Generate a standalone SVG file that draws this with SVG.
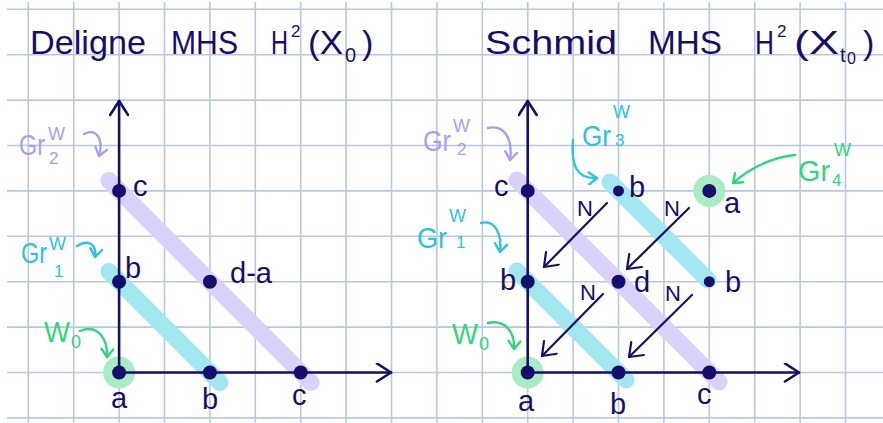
<svg xmlns="http://www.w3.org/2000/svg" width="883" height="423" viewBox="0 0 883 423">
<style>
.grid{stroke:#b9c8e0;stroke-width:1.6;fill:none}
.ax{stroke:#150f6b;stroke-width:2.6;fill:none;stroke-linecap:round}
.nar{stroke:#150f6b;stroke-width:2.2;fill:none;stroke-linecap:round}
.dot{fill:#150f6b}
.pb{stroke:#d9d3fb;stroke-width:17;stroke-linecap:round;fill:none}
.cb{stroke:#a2e6f0;stroke-width:17;stroke-linecap:round;fill:none}
.gc{fill:#a9ebc2}
.t{font-family:"Liberation Sans",Arial,sans-serif;fill:#150f6b}
.title{font-size:34px}
.lbl{font-size:29px}
.nl{font-size:22px}
.pt{fill:#a99ef5}
.ct{fill:#2dc2dd}
.gt{fill:#30d67b}
.pa{stroke:#a99ef5;stroke-width:2.4;fill:none;stroke-linecap:round}
.ca{stroke:#2dc2dd;stroke-width:2.4;fill:none;stroke-linecap:round}
.ga{stroke:#30d67b;stroke-width:2.4;fill:none;stroke-linecap:round}
</style>
<defs>
<marker id="axh" viewBox="0 0 18 20" refX="16" refY="10" markerWidth="18" markerHeight="20" orient="auto" markerUnits="userSpaceOnUse"><path d="M2,1 L16,10 L2,19" fill="none" stroke="#150f6b" stroke-width="2.6" stroke-linecap="round" stroke-linejoin="round"/></marker>
<marker id="nh" viewBox="0 0 16 20" refX="14" refY="10" markerWidth="16" markerHeight="20" orient="auto" markerUnits="userSpaceOnUse"><path d="M2,1 L14,10 L2,19" fill="none" stroke="#150f6b" stroke-width="2.2" stroke-linecap="round" stroke-linejoin="round"/></marker>
<marker id="ph" viewBox="0 0 12 14" refX="10" refY="7" markerWidth="12" markerHeight="14" orient="auto" markerUnits="userSpaceOnUse"><path d="M2,1 L10,7 L2,13" fill="none" stroke="#a99ef5" stroke-width="2.4" stroke-linecap="round" stroke-linejoin="round"/></marker>
<marker id="ch" viewBox="0 0 12 14" refX="10" refY="7" markerWidth="12" markerHeight="14" orient="auto" markerUnits="userSpaceOnUse"><path d="M2,1 L10,7 L2,13" fill="none" stroke="#2dc2dd" stroke-width="2.4" stroke-linecap="round" stroke-linejoin="round"/></marker>
<marker id="gh" viewBox="0 0 12 14" refX="10" refY="7" markerWidth="12" markerHeight="14" orient="auto" markerUnits="userSpaceOnUse"><path d="M2,1 L10,7 L2,13" fill="none" stroke="#30d67b" stroke-width="2.4" stroke-linecap="round" stroke-linejoin="round"/></marker>
</defs>
<rect width="883" height="423" fill="#ffffff"/>
<g id="grid" class="grid">
<path d="M28.3,2V423 M73.7,2V423 M119.1,2V423 M164.5,2V423 M209.9,2V423 M255.3,2V423 M300.7,2V423 M346.1,2V423 M391.5,2V423 M436.9,2V423 M482.3,2V423 M527.7,2V423 M573.1,2V423 M618.5,2V423 M663.9,2V423 M709.3,2V423 M754.7,2V423 M800.1,2V423 M845.5,2V423"/>
<path d="M7,9.3H883 M7,54.7H883 M7,100.1H883 M7,145.5H883 M7,190.9H883 M7,236.3H883 M7,281.7H883 M7,327.1H883 M7,372.5H883 M7,417.9H883"/>
</g>
<g id="title-left" class="t title">
<text x="30" y="54" textLength="116" lengthAdjust="spacingAndGlyphs">Deligne</text>
<text x="171" y="54" textLength="67" lengthAdjust="spacingAndGlyphs">MHS</text>
<text x="271" y="54" textLength="17" lengthAdjust="spacingAndGlyphs">H</text>
<text x="291" y="37" font-size="17">2</text>
<text x="308" y="54" textLength="35" lengthAdjust="spacingAndGlyphs">(X</text>
<text x="345" y="62" font-size="20">0</text>
<text x="362" y="54">)</text>
</g>
<g id="title-right" class="t title">
<text x="755" y="54" textLength="19" lengthAdjust="spacingAndGlyphs">H</text>
<text x="485" y="54" textLength="132" lengthAdjust="spacingAndGlyphs">Schmid</text>
<text x="648" y="54" textLength="74" lengthAdjust="spacingAndGlyphs">MHS</text>
<text x="777" y="37" font-size="17">2</text>
<text x="794" y="54" textLength="45" lengthAdjust="spacingAndGlyphs">(X</text>
<text x="840" y="62" font-size="20">t</text>
<text x="847" y="64" font-size="16">0</text>
<text x="863" y="54">)</text>
</g>
<g id="bands">
<path class="pb" d="M109,180.5 L311,382.5"/>
<path class="cb" d="M109,271.5 L220,382.5"/>
<path class="pb" d="M517,180 L719,382"/>
<path class="cb" d="M517,271 L626,380"/>
<path class="cb" d="M610,182 L708,280"/>
<circle class="gc" cx="119.1" cy="372.5" r="16"/>
<circle class="gc" cx="527.7" cy="372.5" r="16"/>
<circle class="gc" cx="709.3" cy="190.9" r="16"/>
</g>
<g id="connectors">
<path class="ax" d="M119.1,372.5 V101" marker-end="url(#axh)"/>
<path class="ax" d="M119.1,372.5 H391" marker-end="url(#axh)"/>
<path class="ax" d="M527.7,372.5 V101" marker-end="url(#axh)"/>
<path class="ax" d="M527.7,372.5 H799" marker-end="url(#axh)"/>
<path class="nar" d="M607,203 L544,267" marker-end="url(#nh)"/>
<path class="nar" d="M689,208 L627,269" marker-end="url(#nh)"/>
<path class="nar" d="M603,294 L542,356" marker-end="url(#nh)"/>
<path class="nar" d="M692,295 L629,357" marker-end="url(#nh)"/>
<path class="pa" d="M84,134 C96,128 104,138 99,156" marker-end="url(#ph)"/>
<path class="ca" d="M77,246 C88,239 97,244 95,257" marker-end="url(#ch)"/>
<path class="ga" d="M80,331 C97,324 108,338 107,357" marker-end="url(#gh)"/>
<path class="pa" d="M488,128 C505,124 513,140 510,160" marker-end="url(#ph)"/>
<path class="ca" d="M481,223 C496,219 502,236 500,252" marker-end="url(#ch)"/>
<path class="ga" d="M488,323 C505,319 515,332 514,349" marker-end="url(#gh)"/>
<path class="ca" d="M573,140 C571,165 576,179 597,178" marker-end="url(#ch)"/>
<path class="ga" d="M795,155 C770,158 750,168 733,183" marker-end="url(#gh)"/>
</g>
<g id="node-left-a"><circle class="dot" cx="119.1" cy="372.5" r="7"/><text class="t lbl" x="111" y="408">a</text></g>
<g id="node-left-b0"><circle class="dot" cx="209.9" cy="372.5" r="7"/><text class="t lbl" x="202" y="409">b</text></g>
<g id="node-left-c0"><circle class="dot" cx="300.7" cy="372.5" r="7"/><text class="t lbl" x="292" y="405">c</text></g>
<g id="node-left-b1"><circle class="dot" cx="119.1" cy="281.7" r="7"/><text class="t lbl" x="125" y="278">b</text></g>
<g id="node-left-c2"><circle class="dot" cx="119.1" cy="190.9" r="7"/><text class="t lbl" x="133" y="196">c</text></g>
<g id="node-left-da"><circle class="dot" cx="209.9" cy="281.7" r="7"/><text class="t lbl" x="230" y="283">d-a</text></g>
<g id="label-left-gr2" class="t pt"><text x="19" y="155" font-size="30" textLength="26" lengthAdjust="spacingAndGlyphs">Gr</text><text x="48" y="140" font-size="18">W</text><text x="49" y="164" font-size="17">2</text></g>
<g id="label-left-gr1" class="t ct"><text x="21" y="263" font-size="30" textLength="26" lengthAdjust="spacingAndGlyphs">Gr</text><text x="49" y="250" font-size="18">W</text><text x="54" y="277" font-size="17">1</text></g>
<g id="label-left-w0" class="t gt"><text x="44" y="342" font-size="30" textLength="26" lengthAdjust="spacingAndGlyphs">W</text><text x="71" y="348" font-size="18">0</text></g>
<g id="node-right-a"><circle class="dot" cx="527.7" cy="372.5" r="7"/><text class="t lbl" x="518" y="411">a</text></g>
<g id="node-right-b0"><circle class="dot" cx="618.5" cy="372.5" r="7"/><text class="t lbl" x="610" y="414">b</text></g>
<g id="node-right-c0"><circle class="dot" cx="709.3" cy="372.5" r="7"/><text class="t lbl" x="697" y="404">c</text></g>
<g id="node-right-b1"><circle class="dot" cx="527.7" cy="281.7" r="7"/><text class="t lbl" x="500" y="290">b</text></g>
<g id="node-right-d"><circle class="dot" cx="618.5" cy="281.7" r="7"/><text class="t lbl" x="634" y="292">d</text></g>
<g id="node-right-b3"><circle class="dot" cx="709.3" cy="281.7" r="5.5"/><text class="t lbl" x="725" y="292">b</text></g>
<g id="node-right-c2"><circle class="dot" cx="527.7" cy="190.9" r="7"/><text class="t lbl" x="494" y="196">c</text></g>
<g id="node-right-b2"><circle class="dot" cx="618.5" cy="190.9" r="5.5"/><text class="t lbl" x="629" y="197">b</text></g>
<g id="node-right-a4"><circle class="dot" cx="709.3" cy="190.9" r="7"/><text class="t lbl" x="724" y="213">a</text></g>
<g id="n-labels" class="t nl">
<text x="577" y="216">N</text>
<text x="664" y="216">N</text>
<text x="580" y="300">N</text>
<text x="665" y="301">N</text>
</g>
<g id="label-right-gr2" class="t pt"><text x="423" y="151" font-size="30" textLength="28" lengthAdjust="spacingAndGlyphs">Gr</text><text x="453" y="132" font-size="18">W</text><text x="457" y="155" font-size="17">2</text></g>
<g id="label-right-gr1" class="t ct"><text x="417" y="248" font-size="30" textLength="30" lengthAdjust="spacingAndGlyphs">Gr</text><text x="449" y="222" font-size="18">W</text><text x="456" y="248" font-size="17">1</text></g>
<g id="label-right-gr3" class="t ct"><text x="582" y="146" font-size="30" textLength="29" lengthAdjust="spacingAndGlyphs">Gr</text><text x="613" y="118" font-size="18">W</text><text x="615" y="146" font-size="17">3</text></g>
<g id="label-right-gr4" class="t gt"><text x="798" y="181" font-size="30" textLength="32" lengthAdjust="spacingAndGlyphs">Gr</text><text x="834" y="156" font-size="18">W</text><text x="832" y="186" font-size="17">4</text></g>
<g id="label-right-w0" class="t gt"><text x="452" y="344" font-size="30" textLength="26" lengthAdjust="spacingAndGlyphs">W</text><text x="479" y="350" font-size="18">0</text></g>
</svg>
